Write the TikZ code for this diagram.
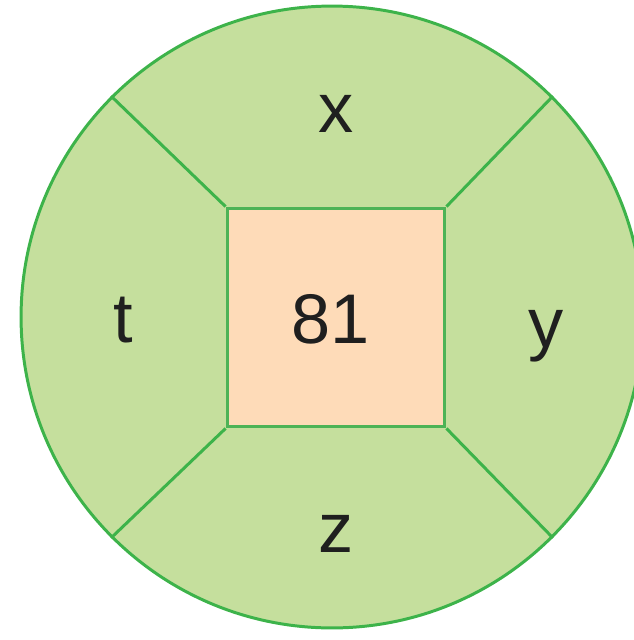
\documentclass[tikz,border=0pt]{standalone}
\usepackage{fontspec}
\setmainfont{Liberation Sans}

\definecolor{ringfill}{HTML}{C5DF9D}
\definecolor{ringline}{HTML}{3DB34A}
\definecolor{boxfill}{HTML}{FEDBB8}
\definecolor{boxline}{HTML}{4DB356}

\tikzset{
  spoke/.style={draw=ringline, line width=1.7pt},
  lbl/.style={font=\fontsize{40}{40}\selectfont, text=black!88},
}

\begin{document}
\begin{tikzpicture}[x=0.02cm, y=-0.02cm]
  \useasboundingbox (0,0) rectangle (634,640);
  % outer disc
  \node[circle, fill=ringfill, draw=ringline, line width=1.7pt,
        minimum size=12.44cm, inner sep=0pt] (disk) at (332,317) {};
  % centre square
  \node[fill=boxfill, draw=boxline, line width=1.7pt,
        minimum width=4.36cm, minimum height=4.38cm, inner sep=0pt]
        (sq) at (336,317.5) {};
  \node[lbl] (val) at (331,319) {81};
  % spokes
  \draw[spoke] (sq.north west) -- (disk.135);
  \draw[spoke] (sq.north east) -- (disk.45);
  \draw[spoke] (sq.south west) -- (disk.225);
  \draw[spoke] (sq.south east) -- (disk.315);
  % labels
  \node[lbl] (lx) at (336,114) {x};
  \node[lbl] (ly) at (546,336) {y};
  \node[lbl] (lz) at (336,534) {z};
  \node[lbl] (lt) at (123,320) {t};
\end{tikzpicture}
\end{document}
